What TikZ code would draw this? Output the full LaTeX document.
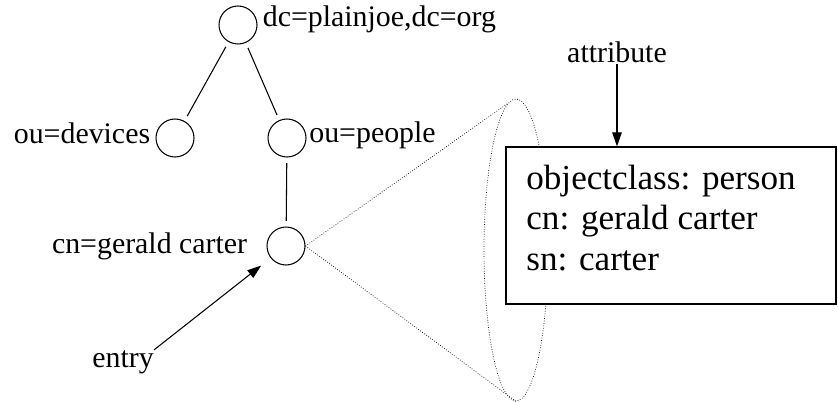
\documentclass[tikz,border=0pt]{standalone}
\usepackage{fontspec}
\setmainfont{Liberation Serif}
\usetikzlibrary{shapes.geometric,arrows.meta,positioning}
\tikzset{obj/.style={circle,draw,line width=0.6pt,minimum size=0.76cm,inner sep=0pt},
    txt/.style={inner sep=0pt,font=\fontsize{17}{20}\selectfont},
    tree/.style={line width=0.6pt,shorten >=0.11cm,shorten <=0.11cm},
    cone/.style={densely dotted,line width=0.4pt}}

\begin{document}
\begin{tikzpicture}[x=0.02cm,y=-0.02cm,>={Triangle[length=0.28cm,width=0.19cm]}]
    \useasboundingbox (0,0) rectangle (838,402);

    \node[obj,label={[txt,anchor=base west,label distance=0.1cm,yshift=-0.04cm]east:{dc=plainjoe,dc=org}}] (root) at (238,25) {};
    \node[obj,label={[txt,anchor=base east,label distance=0.1cm,yshift=-0.1cm]west:{ou=devices}}] (dev) at (175,138) {};
    \node[obj,label={[txt,anchor=base west,label distance=0.05cm,yshift=-0.08cm]east:{ou=people}}] (ppl) at (287,138) {};
    \node[obj,label={[txt,anchor=base east,label distance=0.38cm,yshift=-0.14cm]west:{cn=gerald carter}}] (gc) at (286,246) {};

    \node[txt,anchor=base west] (entry) at (92,367) {entry};
    \node[txt,anchor=base] (attr) at (617,63) {attribute};

    \node[ellipse,draw,cone,minimum width=1.28cm,minimum height=6.04cm,inner sep=0pt] (ell) at (516,250) {};
    \node[draw,fill=white,line width=0.7pt,minimum width=6.6cm,minimum height=3.14cm,inner sep=0pt] (box) at (671,225.5) {};
    \node[anchor=base west,align=left,inner sep=0pt,font=\fontsize{20}{22.8}\selectfont] (vals) at (526,270) {objectclass: person\\cn: gerald carter\\sn: carter};

    \draw[tree] (root) -- (dev);
    \draw[tree] (root) -- (ppl);
    \draw[tree] (ppl) -- (gc);
    \draw[cone] (gc.east) -- (ell.93);
    \draw[cone] (gc.east) -- (ell.south);
    \draw[->,line width=0.6pt,shorten >=0.24cm] (entry.north east) -- (gc);
    \draw[->,line width=0.6pt] (attr.south) -- (attr.south |- box.north);
\end{tikzpicture}
\end{document}
